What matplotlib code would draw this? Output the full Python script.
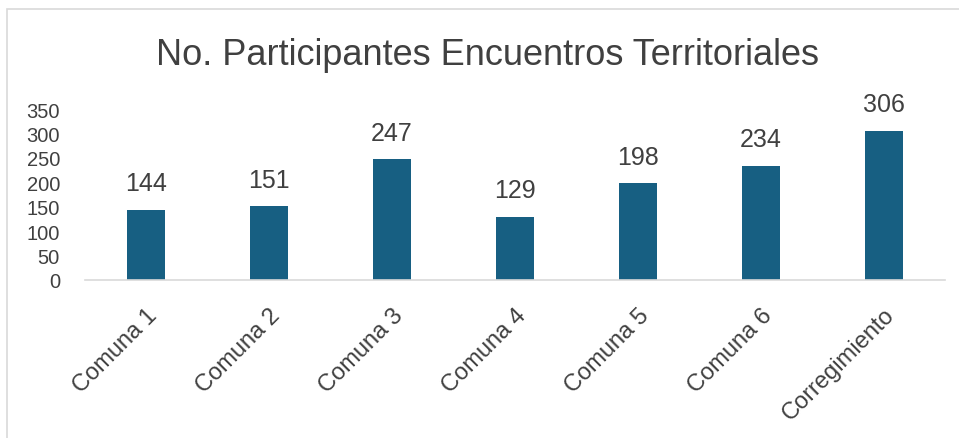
import matplotlib
matplotlib.use("Agg")
import matplotlib.pyplot as plt
from matplotlib.patches import Rectangle
from matplotlib.transforms import ScaledTranslation

categories = ["Comuna 1", "Comuna 2", "Comuna 3", "Comuna 4", "Comuna 5", "Comuna 6", "Corregimiento"]
values = [144, 151, 247, 129, 198, 234, 306]
yticks = [0, 50, 100, 150, 200, 250, 300, 350]
title = "No. Participantes Encuentros Territoriales"

narrow = ["Liberation Sans Narrow", "Liberation Sans", "DejaVu Sans"]
text_color = "#404040"
bar_color = "#175f82"

fig = plt.figure(figsize=(9.59, 4.39), dpi=100)
ax = fig.add_axes([0.0886, 0.36, 0.8968, 0.389])

x = range(len(categories))
bars = ax.bar(x, values, width=0.31, color=bar_color, zorder=2)
for xi, v in zip(x, values):
    ax.text(xi, v + 30, str(v), ha="center", va="bottom", fontsize=18,
            family=narrow, color=text_color)

ax.set_xlim(-0.5, len(categories) - 0.5)
ax.set_ylim(0, 350)
ax.set_yticks(yticks)
ax.set_yticklabels([str(t) for t in yticks], fontsize=14.5, color=text_color,
                   family=["Liberation Sans", "DejaVu Sans"])
ax.set_xticks(list(x))
ax.set_xticklabels(categories, rotation=45, ha="right", rotation_mode="anchor",
                   fontsize=17, family=narrow, color=text_color)
offset = ScaledTranslation(-8 / 100, 0, fig.dpi_scale_trans)
for lab in ax.get_xticklabels():
    lab.set_transform(lab.get_transform() + offset)
ax.tick_params(axis="both", length=0)
ax.tick_params(axis="y", pad=18)
ax.tick_params(axis="x", pad=17)
for s in ["top", "right", "left"]:
    ax.spines[s].set_visible(False)
ax.spines["bottom"].set_color("#d9d9d9")
ax.spines["bottom"].set_linewidth(1.2)

fig.text(0.508, 0.873, title, ha="center", va="center", fontsize=26,
         family=narrow, color=text_color)

fig.patches.append(Rectangle((7 / 959, -0.01), 1.0, 1 - 10 / 439 + 0.01,
                             transform=fig.transFigure, fill=False,
                             edgecolor="#d9d9d9", linewidth=1.2))

fig.savefig("out.png", dpi=100)
